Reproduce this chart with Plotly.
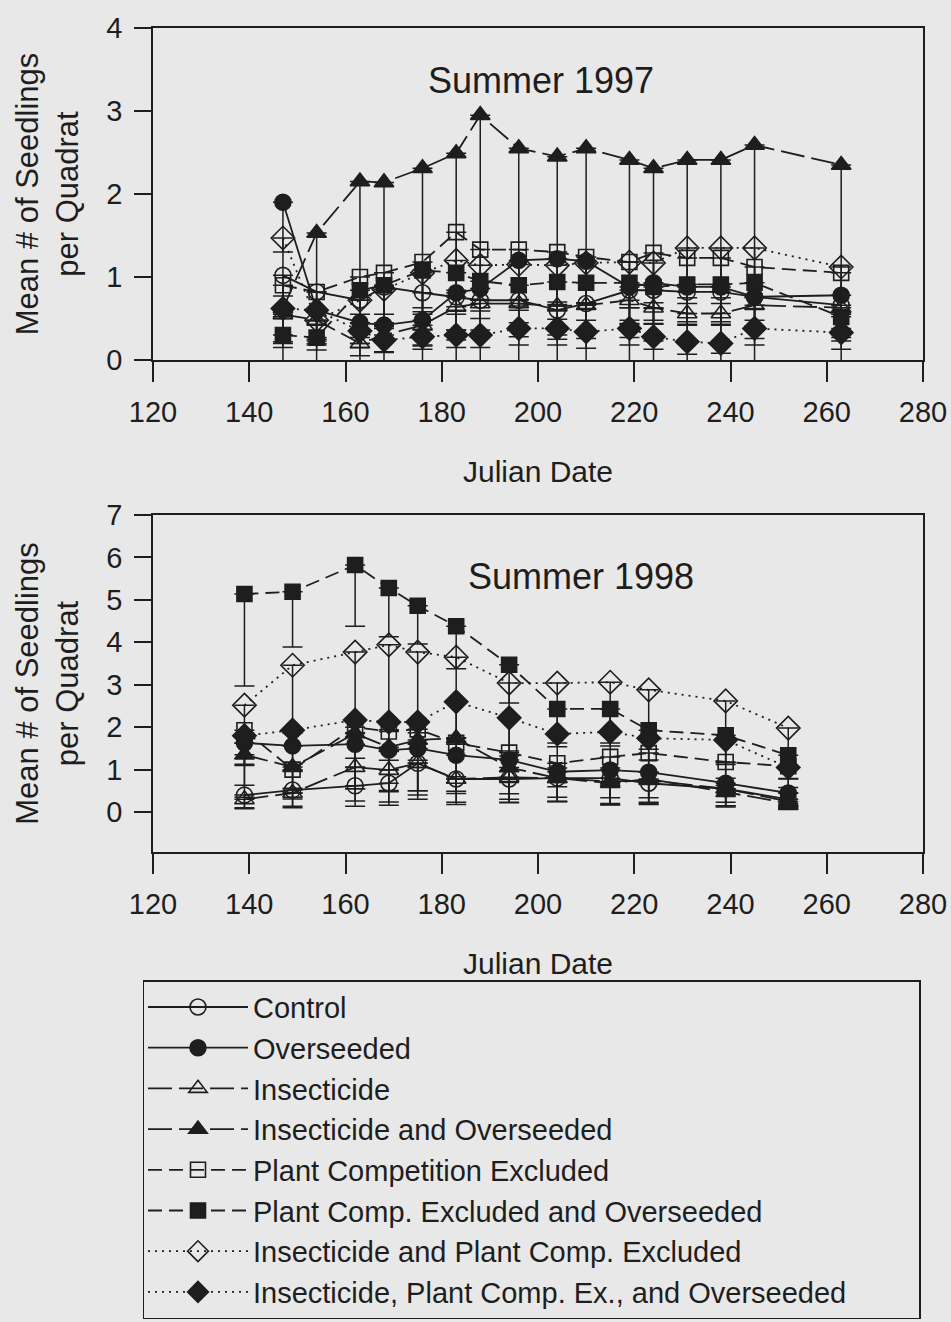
import plotly.graph_objects as go

# ---------------- data ----------------
series_names = [
    "Control",
    "Overseeded",
    "Insecticide",
    "Insecticide and Overseeded",
    "Plant Competition Excluded",
    "Plant Comp. Excluded and Overseeded",
    "Insecticide and Plant Comp. Excluded",
    "Insecticide, Plant Comp. Ex., and Overseeded",
]

dates97 = [147, 154, 163, 168, 176, 183, 188, 196, 204, 210, 219, 224, 231, 238, 245, 263]
control97 = [1.02, 0.82, 0.72, 0.88, 0.81, 0.76, 0.72, 0.72, 0.60, 0.68, 0.84, 0.84, 0.82, 0.82, 0.76, 0.66]
overseeded97 = [1.90, 0.60, 0.45, 0.42, 0.48, 0.81, 0.86, 1.20, 1.22, 1.19, 0.88, 0.93, 0.88, 0.88, 0.76, 0.78]
insect97 = [0.55, 0.48, 0.20, 0.30, 0.42, 0.64, 0.68, 0.68, 0.65, 0.66, 0.72, 0.63, 0.56, 0.56, 0.66, 0.63]
insov97 = [0.62, 1.53, 2.15, 2.14, 2.31, 2.49, 2.95, 2.55, 2.45, 2.55, 2.41, 2.31, 2.41, 2.41, 2.59, 2.35]
pce97 = [0.90, 0.82, 1.00, 1.05, 1.18, 1.54, 1.33, 1.33, 1.30, 1.24, 1.18, 1.29, 1.23, 1.23, 1.12, 1.05]
pceov97 = [0.30, 0.27, 0.84, 0.90, 1.08, 1.05, 0.95, 0.90, 0.94, 0.93, 0.93, 0.88, 0.91, 0.91, 0.93, 0.52]
inspce97 = [1.47, 0.48, 0.72, 0.85, 1.05, 1.20, 1.14, 1.15, 1.14, 1.17, 1.18, 1.17, 1.35, 1.35, 1.35, 1.12]
inspceov97 = [0.62, 0.60, 0.35, 0.24, 0.28, 0.30, 0.30, 0.38, 0.38, 0.34, 0.38, 0.28, 0.22, 0.20, 0.38, 0.33]

control97_err = [0.50, 0.40, 0.45, 0.50, 0.45, 0.40, 0.40, 0.35, 0.30, 0.35, 0.40, 0.40, 0.40, 0.40, 0.35, 0.35]
overseeded97_err = [0.60, 0.35, 0.25, 0.20, 0.30, 0.45, 0.50, 0.55, 0.55, 0.50, 0.45, 0.45, 0.45, 0.45, 0.40, 0.40]
insect97_err = [0.35, 0.30, 0.15, 0.20, 0.25, 0.40, 0.40, 0.40, 0.40, 0.40, 0.45, 0.40, 0.35, 0.35, 0.40, 0.40]
insov97_err = [0.75, 1.70, 2.30, 2.30, 2.50, 2.70, 3.10, 2.70, 2.60, 2.70, 2.60, 2.50, 2.60, 2.60, 2.80, 2.50]
pce97_err = [0.40, 0.35, 0.45, 0.50, 0.55, 0.70, 0.60, 0.60, 0.60, 0.55, 0.55, 0.60, 0.55, 0.55, 0.50, 0.50]
pceov97_err = [0.15, 0.15, 0.40, 0.45, 0.50, 0.50, 0.45, 0.45, 0.45, 0.45, 0.45, 0.45, 0.45, 0.45, 0.45, 0.25]
inspce97_err = [0.70, 0.25, 0.40, 0.45, 0.50, 0.60, 0.55, 0.55, 0.55, 0.55, 0.55, 0.55, 0.60, 0.60, 0.60, 0.55]
inspceov97_err = [0.40, 0.40, 0.20, 0.15, 0.15, 0.15, 0.15, 0.20, 0.20, 0.20, 0.20, 0.15, 0.15, 0.12, 0.20, 0.20]

dates98 = [139, 149, 162, 169, 175, 183, 194, 204, 215, 223, 239, 252]
control98 = [0.40, 0.52, 0.62, 0.68, 1.15, 0.78, 0.78, 0.80, 0.80, 0.68, 0.55, 0.30]
overseeded98 = [1.63, 1.56, 1.60, 1.46, 1.50, 1.34, 1.23, 0.95, 0.99, 0.94, 0.68, 0.45]
insect98 = [0.30, 0.45, 1.06, 0.99, 1.15, 0.78, 0.82, 0.80, 0.72, 0.75, 0.55, 0.25]
insov98 = [1.35, 1.06, 1.85, 1.53, 1.70, 1.74, 1.05, 0.80, 0.68, 0.78, 0.47, 0.21]
pce98 = [1.93, 1.00, 2.00, 1.90, 1.95, 1.63, 1.40, 1.15, 1.30, 1.39, 1.18, 1.08]
pceov98 = [5.14, 5.19, 5.82, 5.28, 4.86, 4.38, 3.47, 2.43, 2.43, 1.93, 1.81, 1.34]
inspce98 = [2.52, 3.46, 3.77, 3.94, 3.77, 3.65, 3.04, 3.04, 3.06, 2.88, 2.62, 1.98]
inspceov98 = [1.80, 1.93, 2.17, 2.12, 2.12, 2.60, 2.22, 1.84, 1.89, 1.74, 1.70, 1.05]

control98_err = [0.30, 0.38, 0.48, 0.52, 0.75, 0.55, 0.55, 0.55, 0.60, 0.50, 0.40, 0.22]
overseeded98_err = [1.00, 1.00, 1.05, 0.95, 1.00, 0.85, 0.80, 0.60, 0.65, 0.60, 0.45, 0.30]
insect98_err = [0.22, 0.35, 0.80, 0.75, 0.85, 0.60, 0.60, 0.55, 0.55, 0.55, 0.40, 0.18]
insov98_err = [1.00, 0.75, 1.30, 1.05, 1.20, 1.30, 0.75, 0.55, 0.50, 0.55, 0.35, 0.15]
pce98_err = [0.80, 0.55, 0.95, 0.90, 0.90, 0.80, 0.70, 0.55, 0.60, 0.65, 0.55, 0.50]
pceov98_err = [2.17, 1.30, 1.44, 1.15, 0.90, 1.00, 0.90, 0.80, 0.80, 0.70, 0.65, 0.55]
inspce98_err = [0.90, 1.60, 1.90, 2.00, 1.90, 1.90, 1.60, 1.50, 1.50, 1.40, 1.50, 1.20]
inspceov98_err = [0.70, 0.80, 0.90, 0.90, 0.90, 1.00, 0.90, 0.80, 0.85, 0.80, 0.90, 0.60]

x_ticks = [120, 140, 160, 180, 200, 220, 240, 260, 280]
y_ticks97 = [0, 1, 2, 3, 4]
y_ticks98 = [0, 1, 2, 3, 4, 5, 6, 7]

vals97 = [control97, overseeded97, insect97, insov97, pce97, pceov97, inspce97, inspceov97]
errs97 = [control97_err, overseeded97_err, insect97_err, insov97_err, pce97_err, pceov97_err, inspce97_err, inspceov97_err]
vals98 = [control98, overseeded98, insect98, insov98, pce98, pceov98, inspce98, inspceov98]
errs98 = [control98_err, overseeded98_err, insect98_err, insov98_err, pce98_err, pceov98_err, inspce98_err, inspceov98_err]

# ---------------- styles ----------------
INK = "#1e1e1e"
BG = "#e8e8e8"
FONT = "Liberation Sans, Arial, sans-serif"
symbols = ["circle-open", "circle", "triangle-up-open", "triangle-up",
           "square-open", "square", "diamond-open", "diamond"]
sizes = [16, 16, 17, 17, 15, 15, 18, 18]
dashes = ["solid", "solid", "24px,7px", "24px,7px", "14px,7px", "14px,7px", "2px,5px", "2px,5px"]

fig = go.Figure()

def add_series(dates, vals, errs, xa, ya, showlegend):
    for i, name in enumerate(series_names):
        fig.add_trace(go.Scatter(
            x=dates, y=vals[i], name=name, legendgroup=name, showlegend=showlegend,
            xaxis=xa, yaxis=ya, mode="lines+markers",
            line=dict(color=INK, width=1.8, dash=dashes[i]),
            marker=dict(symbol=symbols[i], size=sizes[i], color=INK,
                        line=dict(color=INK, width=1.6)),
            error_y=dict(type="data", symmetric=False, array=[0] * len(dates),
                         arrayminus=errs[i], color=INK, thickness=1.5, width=10),
            cliponaxis=True,
        ))

add_series(dates97, vals97, errs97, "x", "y", True)
add_series(dates98, vals98, errs98, "x2", "y2", False)

axis_common = dict(showline=True, linecolor=INK, linewidth=1.5, mirror=True,
                   ticks="outside", tickcolor=INK, tickwidth=1.5,
                   showgrid=False, zeroline=False,
                   tickfont=dict(family=FONT, size=29, color=INK))

xcommon = dict(axis_common, range=[120, 280], tickvals=x_ticks, ticklen=20,
               title=dict(text="Julian Date", font=dict(family=FONT, size=30, color=INK), standoff=34),
               automargin=False, ticklabelstandoff=5)
ytitle = dict(text="Mean # of Seedlings<br>per Quadrat", font=dict(family=FONT, size=31, color=INK), standoff=18)

fig.update_layout(
    width=951, height=1322,
    margin=dict(l=153, r=28, t=28, b=470, autoexpand=False),
    paper_bgcolor=BG, plot_bgcolor=BG,
    font=dict(family=FONT, color=INK),
    xaxis=dict(xcommon, anchor="y"),
    yaxis=dict(axis_common, domain=[0.5971, 1.0], range=[0, 4], tickvals=y_ticks97,
               ticklen=17, title=ytitle, automargin=False, anchor="x", ticklabelstandoff=6),
    xaxis2=dict(xcommon, anchor="y2"),
    yaxis2=dict(axis_common, domain=[0.0, 0.409], range=[-0.94, 7], tickvals=y_ticks98,
                ticklen=17, title=ytitle, automargin=False, anchor="x2", ticklabelstandoff=6),
    legend=dict(x=-0.013, y=-0.1555, xanchor="left", yanchor="top",
                orientation="h", entrywidthmode="fraction", entrywidth=0.835,
                bgcolor="rgba(0,0,0,0)", bordercolor=INK, borderwidth=1.5,
                font=dict(family=FONT, size=29, color=INK), itemwidth=100,
                tracegroupgap=0),
    annotations=[
        dict(text="Summer 1997", x=200.6, y=3.37, xref="x", yref="y", showarrow=False,
             font=dict(family=FONT, size=36, color=INK)),
        dict(text="Summer 1998", x=209.0, y=5.54, xref="x2", yref="y2", showarrow=False,
             font=dict(family=FONT, size=36, color=INK)),
    ],
    showlegend=True,
)

fig.write_html("out.html")
